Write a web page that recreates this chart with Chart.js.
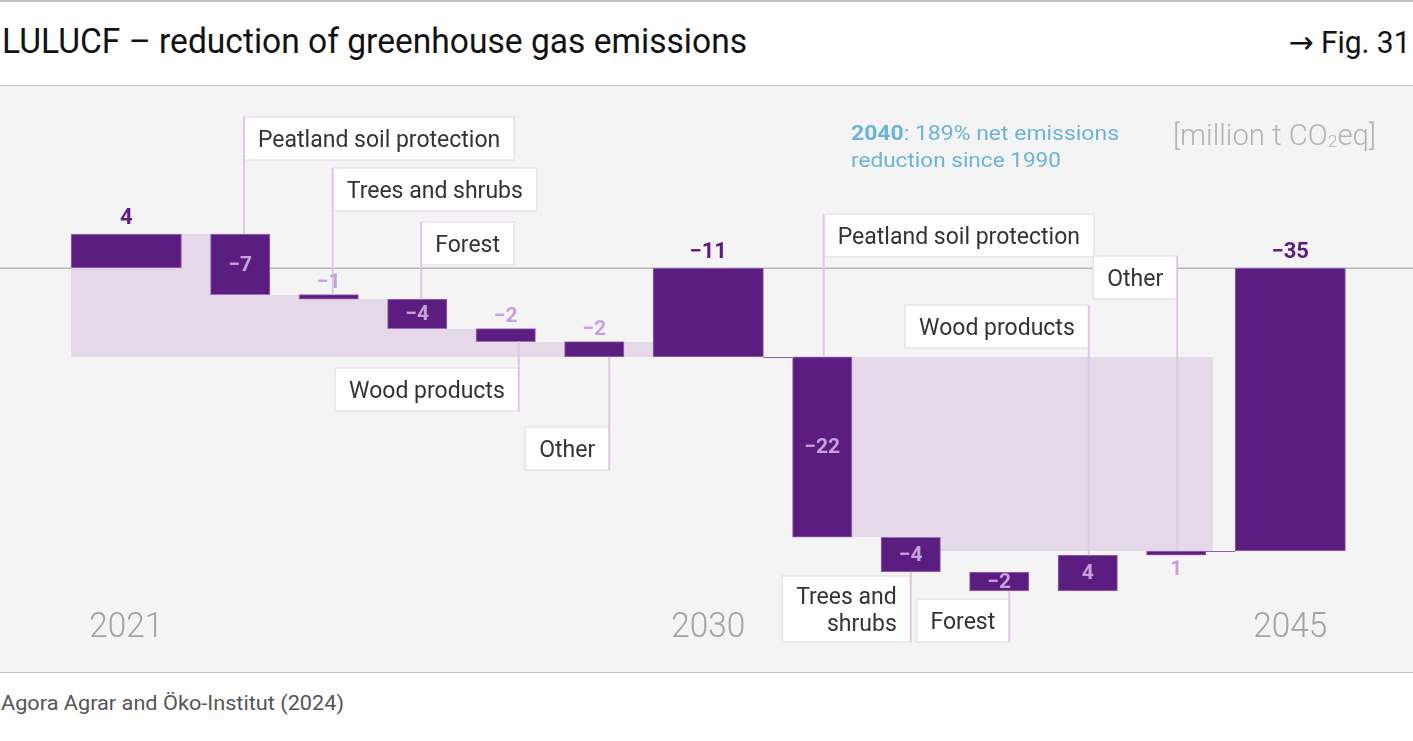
<!DOCTYPE html>
<html>
<head>
<meta charset="utf-8">
<script src="https://cdn.jsdelivr.net/npm/chart.js@4.4.1/dist/chart.umd.min.js"></script>
<style>
html,body{margin:0;padding:0;background:#fff;}
body{width:1413px;height:741px;position:relative;overflow:hidden;font-family:Roboto,"DejaVu Sans",sans-serif;}
.t{position:absolute;white-space:nowrap;line-height:1;left:0;top:0;}
.hl{position:absolute;left:0;width:1413px;height:1.5px;background:#c4c4c4;}
#panel{position:absolute;left:0;top:85px;width:1413px;height:588px;background:#f4f4f4;}
#wrap{position:absolute;left:0;top:86px;width:1413px;height:586px;}
#title{font-size:35px;color:#111;font-weight:400;}
#fig{font-size:31px;color:#111;font-weight:400;}
#unit{font-size:29px;color:#b3b3b3;font-weight:300;}
#unit sub{font-size:60%;vertical-align:-0.12em;}
.note{font-size:21px;color:#6cb3d8;font-weight:400;}
.note b{font-weight:700;}
#source{font-size:19.5px;color:#555;font-weight:400;}
</style>
</head>
<body>
<div class="hl" style="top:0"></div>
<div class="t" id="title">LULUCF – reduction of greenhouse gas emissions</div>
<div class="t" id="fig">→ Fig. 31</div>
<div id="panel"></div>
<div class="hl" style="top:84.5px"></div>
<div class="hl" style="top:671.5px"></div>
<div id="wrap"><canvas id="c"></canvas></div>
<div class="t note" id="note1"><b>2040</b>: 189% net emissions</div>
<div class="t note" id="note2">reduction since 1990</div>
<div class="t" id="unit">[million t CO<sub>2</sub>eq]</div>
<div class="t" id="source">Agora Agrar and Öko-Institut (2024)</div>

<script>
// ---------------- DATA ----------------
const categories = ['2021', 'Peatland soil protection', 'Trees and shrubs', 'Forest', 'Wood products', 'Other',
                    '2030', 'Peatland soil protection', 'Trees and shrubs', 'Forest', 'Wood products', 'Other',
                    '2045'];
const isTotal = [true, false, false, false, false, false, true, false, false, false, false, false, true];
// first entry: starting level 2021; steps: changes; later totals: null (computed as running sum)
const values = [4.2, -7.5, -0.55, -3.65, -1.6, -1.9, null, -22.3, -4.3, -2.35, 4.45, 0.5, null];
const valueLabels = [4, -7, -1, -4, -2, -2, -11, -22, -4, -2, 4, 1, -35];
const shadeModes = ['below', 'above'];   // shading style for each period between totals

// ---------------- LAYOUT ----------------
const BIG_W = 110.5, SMALL_W = 59.5, GAP = 29, LEFT = 71, TAIL = 7;
const PX_PER_UNIT = 8.086, ZERO_Y = 182, CANVAS_H = 586;
const calloutLayout = {
  1:  {side: 'up',   edge: 'left',  dx: 3.75, y: 31},
  2:  {side: 'up',   edge: 'left',  dx: 4,    y: 82},
  3:  {side: 'up',   edge: 'left',  dx: 4,    y: 136},
  4:  {side: 'down', edge: 'right', dx: 13,   y: 325},
  5:  {side: 'down', edge: 'right', dx: 15,   y: 384},
  7:  {side: 'up',   edge: 'left',  dx: 1.5,  y: 128},
  8:  {side: 'down', edge: 'right', dx: 0,    y: 556, wrap: true},
  9:  {side: 'down', edge: 'right', dx: 10,   y: 556},
  10: {side: 'up',   edge: 'right', dx: 1,    y: 219},
  11: {side: 'up',   edge: 'right', dx: 1,    y: 170}
};

// geometry derived from layout
const centers = [], widths = [];
let cursor = LEFT;
categories.forEach((c, i) => {
  const w = isTotal[i] ? BIG_W : SMALL_W;
  centers.push(cursor + w / 2); widths.push(w); cursor += w + GAP;
});
// waterfall levels
const starts = [], ends = [];
let run = 0;
values.forEach((v, i) => {
  if (isTotal[i]) { if (v !== null) run = v; starts.push(0); ends.push(run); }
  else { starts.push(run); run += v; ends.push(run); }
});

const totalData = [], stepData = [];
categories.forEach((c, i) => {
  const p = {x: centers[i], y: [starts[i], ends[i]]};
  (isTotal[i] ? totalData : stepData).push(p);
});

const leftOf = i => centers[i] - widths[i] / 2;
const rightOf = i => centers[i] + widths[i] / 2;

function shadeRects() {
  const tIdx = isTotal.map((t, i) => t ? i : -1).filter(i => i >= 0);
  const rects = [];
  for (let p = 0; p < tIdx.length - 1; p++) {
    const a = tIdx[p], b = tIdx[p + 1];
    const pStart = ends[a], pEnd = ends[b];
    if (shadeModes[p] === 'below') {
      for (let i = a; i < b; i++) {
        let lvl = ends[i];
        if (Math.abs(lvl - pEnd) < 1e-6) lvl = starts[i];
        rects.push({x0: leftOf(i), x1: leftOf(i + 1), hi: lvl, lo: pEnd});
      }
    } else {
      for (let i = a + 1; i < b; i++) {
        const lvl = Math.max(ends[i], pEnd);
        const x1 = (i < b - 1) ? leftOf(i + 1) : rightOf(i) + TAIL;
        rects.push({x0: leftOf(i), x1: x1, hi: pStart, lo: lvl});
      }
    }
  }
  return rects;
}

const fmt = v => v < 0 ? '\u2212' + Math.abs(v) : String(v);

const decor = {
  id: 'decor',
  beforeDatasetsDraw(chart) {
    const {ctx, scales: {x, y}} = chart;
    ctx.save();
    // zero line
    const y0 = Math.round(y.getPixelForValue(0)) + 0.25;
    ctx.strokeStyle = '#b7b7b7'; ctx.lineWidth = 1.5;
    ctx.beginPath(); ctx.moveTo(0, y0); ctx.lineTo(chart.width, y0); ctx.stroke();
    // connectors in unshaded gaps next to totals
    const rects = shadeRects();
    ctx.strokeStyle = '#8a62a6'; ctx.lineWidth = 1;
    for (let i = 0; i < categories.length - 1; i++) {
      if (!(isTotal[i] || isTotal[i + 1])) continue;
      const gx0 = rightOf(i), gx1 = leftOf(i + 1);
      const covered = rects.some(r => r.x0 <= gx0 + 0.5 && r.x1 >= gx1 - 0.5);
      if (covered) continue;
      const py = Math.round(y.getPixelForValue(ends[i])) + 0.5;
      ctx.beginPath(); ctx.moveTo(x.getPixelForValue(gx0), py); ctx.lineTo(x.getPixelForValue(gx1), py); ctx.stroke();
    }
    // shading, filled as one path to avoid seams
    ctx.fillStyle = '#e5d8e9';
    ctx.beginPath();
    rects.forEach(r => {
      const xl = Math.round(x.getPixelForValue(r.x0)), xr = Math.round(x.getPixelForValue(r.x1));
      const ya = Math.round(y.getPixelForValue(r.hi)), yb = Math.round(y.getPixelForValue(r.lo));
      ctx.rect(xl, ya, xr - xl, yb - ya);
    });
    ctx.fill('nonzero');
    ctx.restore();
  },
  afterDatasetsDraw(chart) {
    const {ctx, scales: {x, y}} = chart;
    ctx.save();
    // callout boxes
    ctx.font = '23px Roboto';
    const lineSegs = [];
    Object.keys(calloutLayout).forEach(k => {
      const i = +k, L = calloutLayout[k];
      const text = categories[i];
      let lines = [text];
      if (L.wrap) { const w = text.split(' '); lines = [w.slice(0, -1).join(' '), w[w.length - 1]]; }
      const tw = Math.max(...lines.map(s => ctx.measureText(s).width));
      const bw = tw + 28, bh = 43 + 23 * (lines.length - 1);
      const lx = x.getPixelForValue(centers[i]) + L.dx;
      const bl = L.edge === 'left' ? lx : lx - bw;
      const bt = L.side === 'up' ? L.y : L.y - bh;
      ctx.fillStyle = '#ffffff';
      ctx.fillRect(bl, bt, bw, bh);
      ctx.strokeStyle = '#ecdff0'; ctx.lineWidth = 1.5;
      ctx.strokeRect(bl, bt, bw, bh);
      ctx.fillStyle = '#333333';
      ctx.textBaseline = 'middle';
      ctx.textAlign = L.edge === 'left' ? 'left' : 'right';
      const tx = L.edge === 'left' ? bl + 14 : bl + bw - 14;
      lines.forEach((s, kk) => {
        const ty = bt + bh / 2 + (kk - (lines.length - 1) / 2) * 27 + 3;
        ctx.fillText(s, tx, ty);
      });
      const top = y.getPixelForValue(Math.max(starts[i], ends[i]));
      const bot = y.getPixelForValue(Math.min(starts[i], ends[i]));
      if (L.side === 'up') lineSegs.push([lx, bt, top]); else lineSegs.push([lx, bot, bt + bh]);
    });
    ctx.strokeStyle = '#ddc9e5'; ctx.lineWidth = 2;
    lineSegs.forEach(s => { ctx.beginPath(); ctx.moveTo(s[0], s[1]); ctx.lineTo(s[0], s[2]); ctx.stroke(); });

    // value labels
    ctx.textAlign = 'center'; ctx.textBaseline = 'middle';
    categories.forEach((c, i) => {
      const cx = x.getPixelForValue(centers[i]);
      const top = y.getPixelForValue(Math.max(starts[i], ends[i]));
      const bot = y.getPixelForValue(Math.min(starts[i], ends[i]));
      const lab = fmt(valueLabels[i]);
      if (isTotal[i]) {
        ctx.font = 'bold 22px Roboto';
        ctx.fillStyle = '#5c1d80';
        ctx.fillText(lab, cx, top - 16);
      } else {
        ctx.font = 'bold 21px Roboto';
        ctx.fillStyle = '#c6a2d8';
        if (Math.abs(values[i]) >= 2) ctx.fillText(lab, cx, (top + bot) / 2 + 1);
        else if (values[i] < 0) ctx.fillText(lab, cx, top - 12);
        else ctx.fillText(lab, cx, bot + 15);
      }
    });

    // year labels under totals
    ctx.font = '300 35px Roboto';
    ctx.fillStyle = '#a3a3a3';
    ctx.textAlign = 'center';
    ctx.textBaseline = 'alphabetic';
    const sx = 74 / ctx.measureText('2030').width;
    categories.forEach((c, i) => {
      if (!isTotal[i]) return;
      ctx.save();
      ctx.translate(x.getPixelForValue(centers[i]), 551);
      ctx.scale(sx, 1);
      ctx.fillText(c, 0, 0);
      ctx.restore();
    });
    ctx.restore();
  }
};

const barStyle = {backgroundColor: '#5c1d80', borderColor: '#9a70b5', borderWidth: 1, borderSkipped: false};
new Chart(document.getElementById('c'), {
  type: 'bar',
  data: {
    datasets: [
      Object.assign({label: 'Totals', data: totalData, barThickness: BIG_W}, barStyle),
      Object.assign({label: 'Changes', data: stepData, barThickness: SMALL_W}, barStyle)
    ]
  },
  options: {
    responsive: true, maintainAspectRatio: false, animation: false,
    layout: {padding: 0},
    plugins: {legend: {display: false}, tooltip: {enabled: false}},
    scales: {
      x: {type: 'linear', min: 0, max: 1413, display: false, stacked: true, offset: false},
      y: {type: 'linear', min: -(CANVAS_H - ZERO_Y) / PX_PER_UNIT, max: ZERO_Y / PX_PER_UNIT, display: false}
    }
  },
  plugins: [decor]
});

// ---------------- HTML text placement ----------------
function placeText(id, o) {
  const el = document.getElementById(id);
  el.style.left = '0px'; el.style.top = '0px'; el.style.transform = 'none';
  const probe = document.createElement('span');
  probe.style.cssText = 'display:inline-block;width:0;height:0;vertical-align:baseline;';
  el.appendChild(probe);
  const er = el.getBoundingClientRect();
  const base = probe.getBoundingClientRect().top - er.top;
  el.removeChild(probe);
  const w = er.width;
  const s = o.width ? o.width / w : 1;
  el.style.top = (o.baseline - base) + 'px';
  if (o.right !== undefined) { el.style.left = (o.right - w) + 'px'; el.style.transformOrigin = '100% 0'; }
  else { el.style.left = o.left + 'px'; el.style.transformOrigin = '0 0'; }
  el.style.transform = 'scaleX(' + s + ')';
}
function layoutTexts() {
  placeText('title', {left: 2, baseline: 53, width: 745});
  placeText('fig', {right: 1410, baseline: 53, width: 122});
  placeText('unit', {left: 1173, baseline: 145, width: 203});
  placeText('note1', {left: 851, baseline: 140, width: 268});
  placeText('note2', {left: 851, baseline: 167, width: 210});
  placeText('source', {left: 1, baseline: 710, width: 343});
}
layoutTexts();
if (document.fonts && document.fonts.ready) document.fonts.ready.then(layoutTexts);
</script>
</body>
</html>
